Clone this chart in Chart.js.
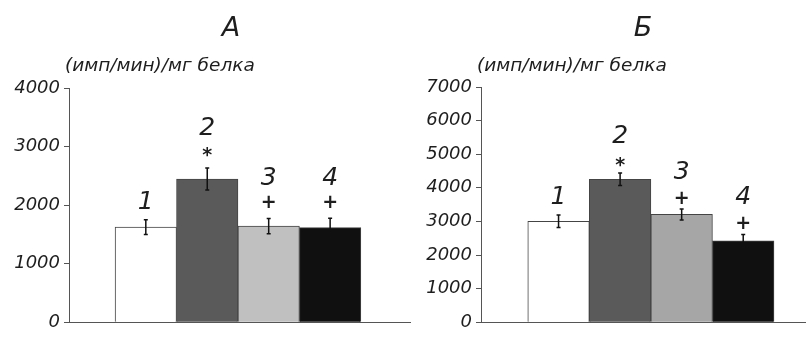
<!DOCTYPE html>
<html>
<head>
<meta charset="utf-8">
<script src="https://cdn.jsdelivr.net/npm/chart.js@4/dist/chart.umd.min.js"></script>
<style>
  body { margin: 0; background: #fff; }
  #wrap { position: relative; width: 806px; height: 337px; }
  canvas { position: absolute; top: 0; }
</style>
</head>
<body>
<div id="wrap">
  <canvas id="chartA" style="left:0px"></canvas>
  <canvas id="chartB" style="left:415px"></canvas>
</div>
<script>
// groups 1..4
var groups = ['1', '2', '3', '4'];
var barColorsA = ['#ffffff', '#5a5a5a', '#c0c0c0', '#101010'];
var barColorsB = ['#ffffff', '#5a5a5a', '#a6a6a6', '#101010'];

// panel А
var valuesA = [1625, 2446, 1641, 1615];
var errorsA = [125, 187, 130, 162];
var marksA = ['', '*', '+', '+'];
var maxA = 4000;

// panel Б
var valuesB = [3005, 4255, 3207, 2420];
var errorsB = [187, 187, 163, 193];
var marksB = ['', '*', '+', '+'];
var maxB = 7000;

var yLabel = '(имп/мин)/мг белка';
var FONT = '"DejaVu Sans", sans-serif';

var annotate = {
	id: 'annotate',
	afterDatasetsDraw: function(chart){
		var o = chart.options.plugins.annotate;
		var ctx = chart.ctx;
		var y = chart.scales.y;
		var meta = chart.getDatasetMeta(0);
		var area = chart.chartArea;
		ctx.save();
		for(var i = 0; i < o.values.length; i++){
			var x = meta.data[i].x;
			var top = y.getPixelForValue(o.values[i] + o.errors[i]);
			var bot = y.getPixelForValue(o.values[i] - o.errors[i]);
			// error bar
			ctx.strokeStyle = '#111';
			ctx.lineWidth = 1.5;
			ctx.beginPath();
			ctx.moveTo(x, top); ctx.lineTo(x, bot);
			ctx.moveTo(x - 2, top); ctx.lineTo(x + 2, top);
			ctx.moveTo(x - 2, bot); ctx.lineTo(x + 2, bot);
			ctx.stroke();

			ctx.fillStyle = '#1e1e1e';
			ctx.textAlign = 'center';
			ctx.textBaseline = 'middle';
			var numY;
			if(o.marks[i]){
				var markY = top - o.markGap;
				ctx.font = 'bold 19px ' + FONT;
				ctx.fillText(o.marks[i], x, markY + (o.marks[i] == '*' ? 3 : 0));
				numY = markY - o.numGap;
			} else {
				numY = top - 17;
			}
			ctx.font = 'italic 25px ' + FONT;
			ctx.fillText(groups[i], x, numY);
		}
		// panel title
		ctx.font = 'italic 27px ' + FONT;
		ctx.fillText(o.title, area.left + 162, 29);
		// axis label
		ctx.textAlign = 'left';
		ctx.font = 'italic 18.5px ' + FONT;
		ctx.fillText(yLabel, area.left - 4, 66);
		ctx.restore();
	}
};

function makeChart(id, width, yWidth, padTop, padRight, xMin, xMax, values, errors, marks, colors, max, title, markGap, numGap){
	var canvas = document.getElementById(id);
	canvas.width = width;
	canvas.height = 337;
	var points = [];
	for(var i = 0; i < values.length; i++){
		points.push({x: i + 1, y: values[i]});
	}
	return new Chart(canvas, {
		type: 'bar',
		data: {
			datasets: [{
				data: points,
				backgroundColor: colors,
				borderColor: '#444',
				borderWidth: 1,
				barPercentage: 1,
				categoryPercentage: 1
			}]
		},
		options: {
			responsive: false,
			animation: false,
			layout: { padding: { top: padTop, bottom: 7, left: 0, right: padRight } },
			plugins: {
				legend: { display: false },
				tooltip: { enabled: false },
				annotate: { values: values, errors: errors, marks: marks, title: title, markGap: markGap, numGap: numGap }
			},
			scales: {
				x: {
					type: 'linear',
					offset: false,
					min: xMin,
					max: xMax,
					afterBuildTicks: function(s){ s.ticks = [1, 2, 3, 4].map(function(v){ return {value: v}; }); },
					afterFit: function(s){ s.height = 0; },
					ticks: { display: false },
					grid: { display: false, offset: false },
					border: { display: true, color: '#555', width: 1 }
				},
				y: {
					min: 0,
					max: max,
					afterFit: function(s){ s.width = yWidth; },
					ticks: {
						stepSize: 1000,
						color: '#1e1e1e',
						padding: 4,
						font: { family: FONT, size: 18, style: 'italic' },
						callback: function(v){ return String(v); }
					},
					grid: { drawOnChartArea: false, drawTicks: true, tickLength: 5, color: '#555' },
					border: { color: '#555', width: 1 }
				}
			}
		},
		plugins: [annotate]
	});
}

makeChart('chartA', 412, 69, 88, 2, -0.25, 5.3, valuesA, errorsA, marksA, barColorsA, maxA, 'А', 15, 25);
makeChart('chartB', 391, 66, 87, 0, -0.26, 5.02, valuesB, errorsB, marksB, barColorsB, maxB, 'Б', 10, 26.5);
</script>
</body>
</html>
